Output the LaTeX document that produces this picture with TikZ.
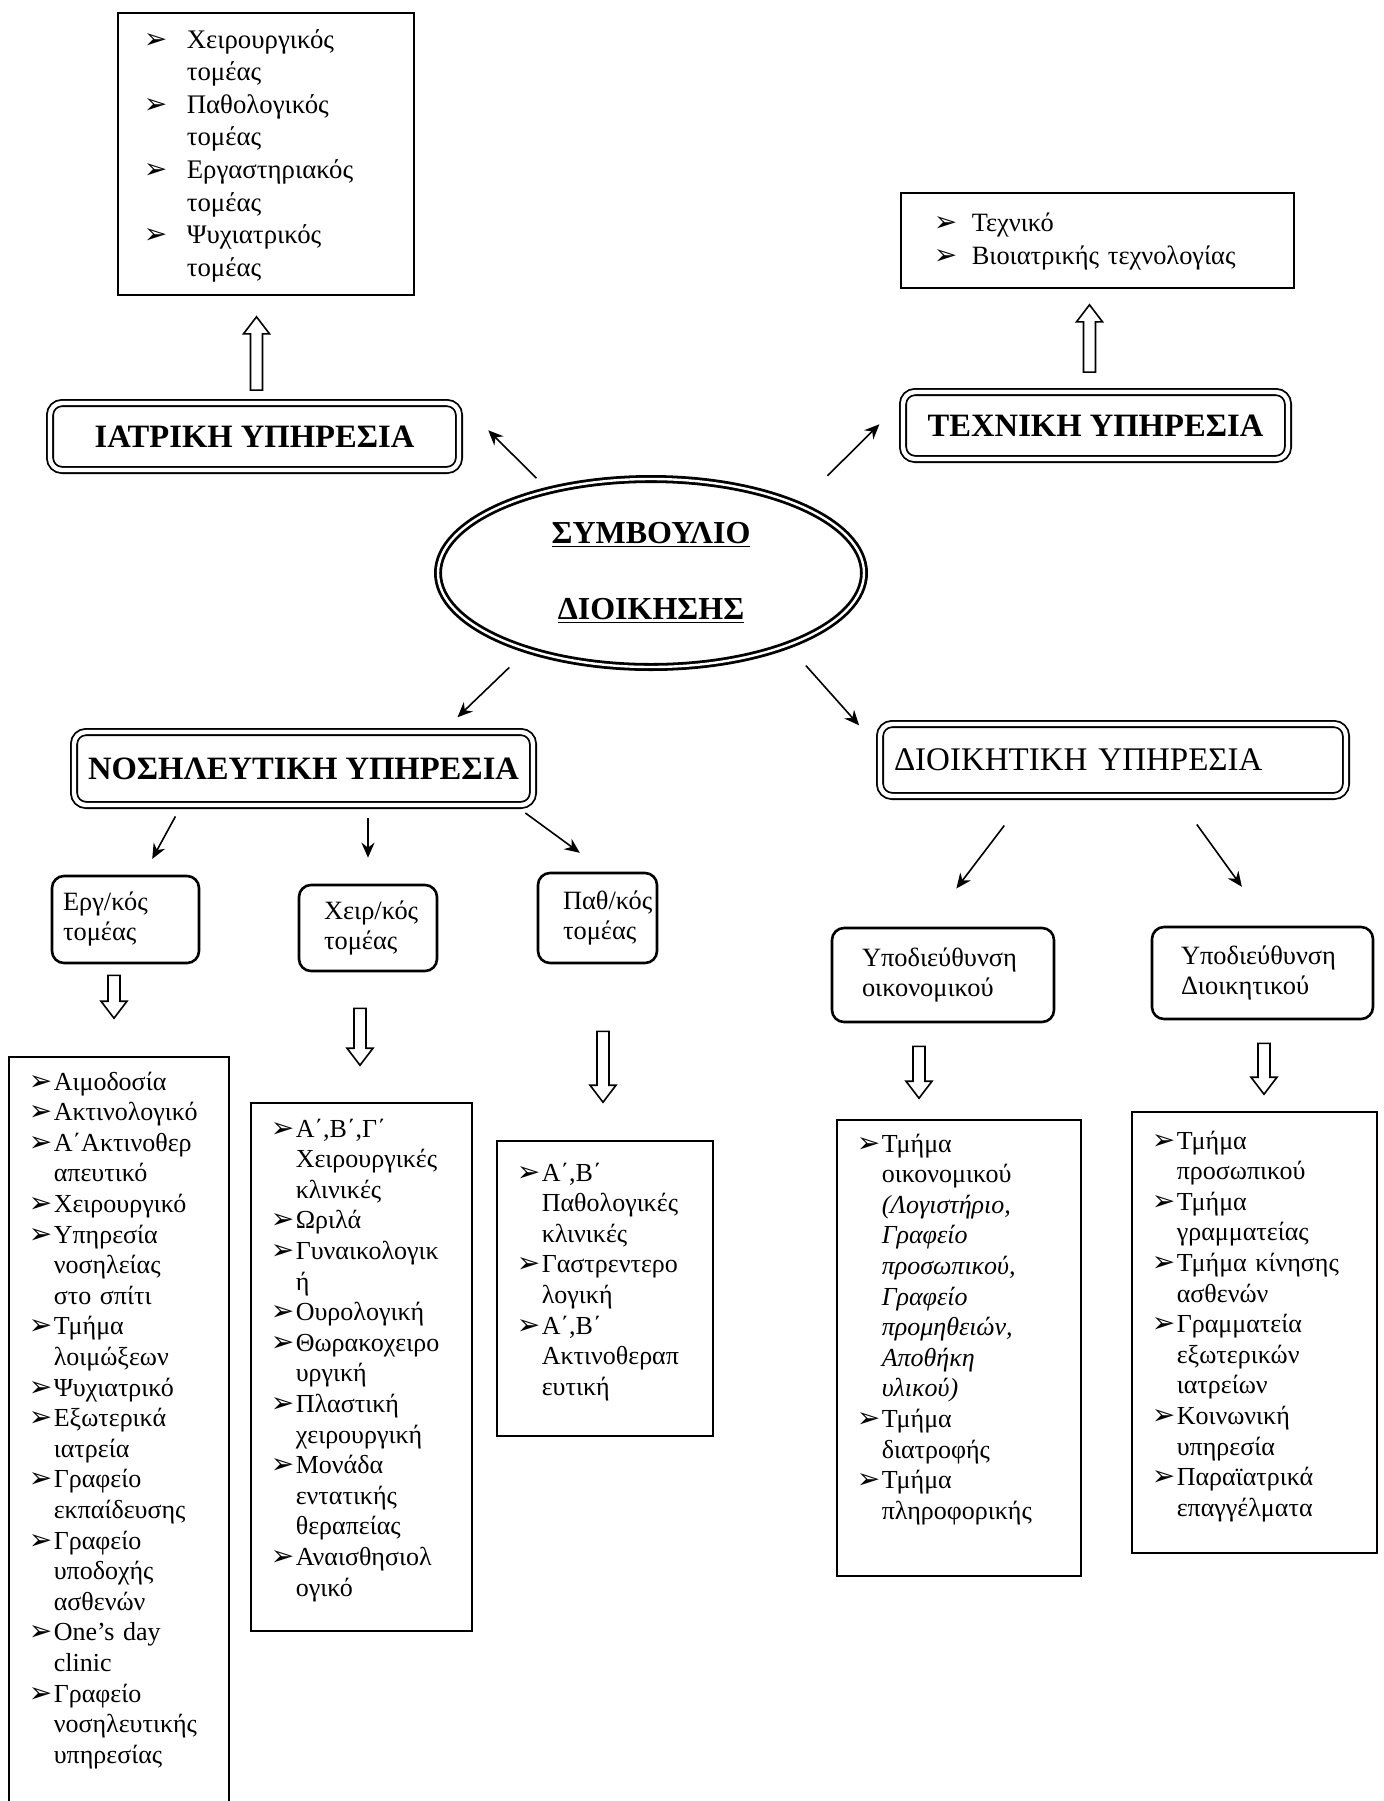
\documentclass[tikz,border=0pt]{standalone}
\usepackage{fontspec}
\setmainfont{Liberation Serif}
\newfontfamily\dejavu{DejaVu Sans}
\usetikzlibrary{shapes.geometric,arrows.meta,calc}

\newcommand\bul{{\dejavu\fontsize{14}{14}\selectfont ➢}}
\newcommand\itm[1][12.5pt]{\hangindent=#1\hangafter=1\makebox[#1][l]{\bul}}

\tikzset{
  mainbox/.style={draw, double, line width=0.9pt, double distance=2.2pt, rounded corners=6pt,
    inner sep=0pt, font=\fontsize{16.3}{18}\selectfont\bfseries},
  secbox/.style={draw, line width=1.3pt, rounded corners=6pt, align=left, inner ysep=0pt,
    font=\fontsize{13.2}{15}\selectfont},
  listbox/.style={draw, line width=0.8pt, align=left, inner ysep=0pt, inner xsep=10pt,
    anchor=base west, font=\fontsize{13}{15.3}\selectfont},
  arr/.style={-{Stealth[length=7.5pt,width=6.5pt]}, line width=0.8pt},
  hollow/.style={draw, line width=0.8pt, line join=miter},
  holdown/.style n args={3}{to path={let \p1=(\tikztostart.south), \p2=(\tikztotarget.north) in
    (\x1+#3-3pt,\y1-#1) -- (\x1+#3-3pt,\y2+#2+8.5pt) -- (\x1+#3-6.5pt,\y2+#2+8.5pt)
    -- (\x1+#3,\y2+#2) -- (\x1+#3+6.5pt,\y2+#2+8.5pt) -- (\x1+#3+3pt,\y2+#2+8.5pt)
    -- (\x1+#3+3pt,\y1-#1) -- cycle}},
  holup/.style n args={3}{to path={let \p1=(\tikztostart.north), \p2=(\tikztotarget.south) in
    (\x1+#3-3pt,\y1+#1) -- (\x1+#3-3pt,\y2-#2-8.5pt) -- (\x1+#3-6.5pt,\y2-#2-8.5pt)
    -- (\x1+#3,\y2-#2) -- (\x1+#3+6.5pt,\y2-#2-8.5pt) -- (\x1+#3+3pt,\y2-#2-8.5pt)
    -- (\x1+#3+3pt,\y1+#1) -- cycle}}
}

\begin{document}
\begin{tikzpicture}[x=0.5pt, y=-0.5pt]
  \useasboundingbox (0,0) rectangle (1383,1801);

  \node[ellipse, draw, double, line width=1.4pt, double distance=1.2pt, minimum width=213pt,
    minimum height=94pt, inner sep=0pt, align=center, font=\fontsize{16}{38}\selectfont\bfseries]
    (board) at (651,573) {\underline{ΣΥΜΒΟΥΛΙΟ}\\\underline{ΔΙΟΙΚΗΣΗΣ}};

  \node[mainbox, minimum width=204.5pt, minimum height=33.5pt] (iatr) at (254.5,436.5) {ΙΑΤΡΙΚΗ ΥΠΗΡΕΣΙΑ};
  \node[mainbox, minimum width=192.5pt, minimum height=33.5pt] (tech) at (1095.5,425.5) {ΤΕΧΝΙΚΗ ΥΠΗΡΕΣΙΑ};
  \node[mainbox, minimum width=229.5pt, minimum height=36.5pt] (nos) at (303.5,768.5) {ΝΟΣΗΛΕΥΤΙΚΗ ΥΠΗΡΕΣΙΑ};
  \node[mainbox, minimum width=233pt, minimum height=36pt, inner xsep=7pt, text width=219pt,
    align=left, font=\fontsize{16.5}{18}\selectfont] (dioik) at (1113,760) {ΔΙΟΙΚΗΤΙΚΗ ΥΠΗΡΕΣΙΑ};

  \node[listbox, inner xsep=13pt, text width=122pt, text height=17.5pt, text depth=123.5pt,
    font=\fontsize{13.4}{16.3}\selectfont] (medlist) at (117,48)
    {\itm[21.5pt]Χειρουργικός\newline τομέας\par
     \itm[21.5pt]Παθολογικός\newline τομέας\par
     \itm[21.5pt]Εργαστηριακός\newline τομέας\par
     \itm[21.5pt]Ψυχιατρικός\newline τομέας\par};
  \node[listbox, inner xsep=16.5pt, text width=163.5pt, text height=19pt, text depth=28.5pt,
    font=\fontsize{13.2}{16.5}\selectfont] (techlist) at (900,231)
    {\itm[19pt]Τεχνικό\par
     \itm[19pt]Βιοιατρικής τεχνολογίας\par};

  \node[secbox, minimum width=73.5pt, minimum height=43.5pt, inner xsep=5.5pt, text width=62.5pt]
    (erg) at (125.5,919.5) {Εργ/κός\\τομέας};
  \node[secbox, minimum width=69pt, minimum height=43pt, inner xsep=12.5pt, text width=44pt]
    (cheir) at (368,928) {Χειρ/κός\\τομέας};
  \node[secbox, minimum width=59.5pt, minimum height=45pt, inner xsep=12.5pt, text width=34.5pt]
    (path) at (597.5,918) {Παθ/κός\\τομέας};
  \node[secbox, minimum width=111pt, minimum height=47pt, inner xsep=15pt, text width=81pt]
    (oik) at (943,975) {Υποδιεύθυνση\\οικονομικού};
  \node[secbox, minimum width=110.5pt, minimum height=46pt, inner xsep=14.5pt, text width=81.5pt]
    (dioi) at (1262.5,973) {Υποδιεύθυνση\\Διοικητικού};

  \node[listbox, text width=90pt, text height=16.5pt, text depth=370pt] (erglist) at (8,1090)
    {\itm Αιμοδοσία\par
     \itm Ακτινολογικό\par
     \itm Α΄Ακτινοθερ\newline απευτικό\par
     \itm Χειρουργικό\par
     \itm Υπηρεσία\newline νοσηλείας\newline στο σπίτι\par
     \itm Τμήμα\newline λοιμώξεων\par
     \itm Ψυχιατρικό\par
     \itm Εξωτερικά\newline ιατρεία\par
     \itm Γραφείο\newline εκπαίδευσης\par
     \itm Γραφείο\newline υποδοχής\newline ασθενών\par
     \itm One’s day\newline clinic\par
     \itm Γραφείο\newline νοσηλευτικής\newline υπηρεσίας\par};
  \node[listbox, text width=90.5pt, text height=17pt, text depth=247pt] (cheirlist) at (250,1137)
    {\itm Α΄,Β΄,Γ΄\newline Χειρουργικές\newline κλινικές\par
     \itm Ωριλά\par
     \itm Γυναικολογικ\newline ή\par
     \itm Ουρολογική\par
     \itm Θωρακοχειρο\newline υργική\par
     \itm Πλαστική\newline χειρουργική\par
     \itm Μονάδα\newline εντατικής\newline θεραπείας\par
     \itm Αναισθησιολ\newline ογικό\par};
  \node[listbox, text width=88pt, text height=20pt, text depth=127.5pt] (pathlist) at (496,1181)
    {\itm Α΄,Β΄\newline Παθολογικές\newline κλινικές\par
     \itm Γαστρεντερο\newline λογική\par
     \itm Α΄,Β΄\newline Ακτινοθεραπ\newline ευτική\par};
  \node[listbox, text width=102pt, text height=16pt, text depth=212pt] (oiklist) at (836,1152)
    {\itm Τμήμα\newline οικονομικού\newline \textit{(Λογιστήριο,\newline Γραφείο\newline προσωπικού,\newline
       Γραφείο\newline προμηθειών,\newline Αποθήκη\newline υλικού)}\par
     \itm Τμήμα\newline διατροφής\par
     \itm Τμήμα\newline πληροφορικής\par};
  \node[listbox, text width=102.5pt, text height=18.5pt, text depth=202pt] (dioilist) at (1131,1149)
    {\itm Τμήμα\newline προσωπικού\par
     \itm Τμήμα\newline γραμματείας\par
     \itm Τμήμα κίνησης\newline ασθενών\par
     \itm Γραμματεία\newline εξωτερικών\newline ιατρείων\par
     \itm Κοινωνική\newline υπηρεσία\par
     \itm Παραϊατρικά\newline επαγγέλματα\par};

  \draw[arr, shorten <=8pt, shorten >=20pt] (board.141) -- (iatr.north east);
  \draw[arr, shorten <=20pt, shorten >=16pt] (board.25) -- (tech.173);
  \draw[arr, shorten <=12pt, shorten >=10pt] (board.212) -- (nos.15);
  \draw[arr, shorten <=13pt, shorten >=15pt] (board.332) -- (dioik.177);

  \draw[arr, shorten <=6pt, shorten >=9pt] (nos.197) -- (erg.68);
  \draw[arr, shorten <=6pt, shorten >=13pt] (nos.south -| cheir.north) -- (cheir.north);
  \draw[arr, shorten <=6pt, shorten >=16pt] (nos.350) -- (path.80);
  \draw[arr, shorten <=18pt, shorten >=24pt] (dioik.203) -- (oik.108);
  \draw[arr, shorten <=17pt, shorten >=24pt] (dioik.-30) -- (dioi.81);

  \draw[hollow] (iatr) to[holup={6pt}{10.5pt}{1pt}] (medlist);
  \draw[hollow] (tech) to[holup={9.5pt}{8pt}{-3pt}] (techlist);
  \draw[hollow] (erg) to[holdown={5.5pt}{19pt}{-5.75pt}] (erglist);
  \draw[hollow] (cheir) to[holdown={18pt}{18.5pt}{-4pt}] (cheirlist);
  \draw[hollow] (path) to[holdown={33.5pt}{19pt}{2.75pt}] (pathlist);
  \draw[hollow] (oik) to[holdown={11.5pt}{10.5pt}{-12pt}] (oiklist);
  \draw[hollow] (dioi) to[holdown={11.5pt}{8.5pt}{0.75pt}] (dioilist);
\end{tikzpicture}
\end{document}
